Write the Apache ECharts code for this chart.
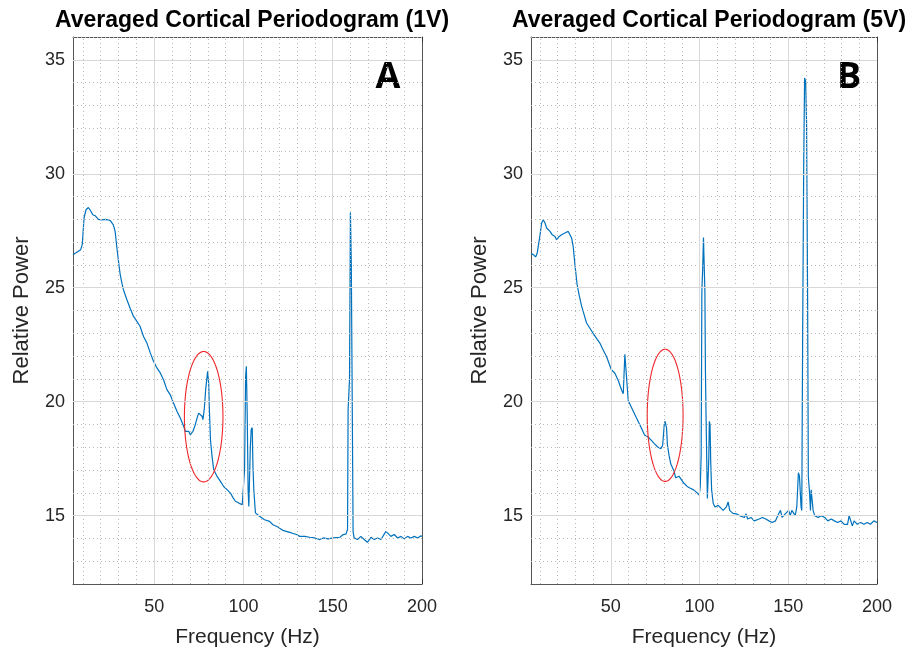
<!DOCTYPE html>
<html><head><meta charset="utf-8">
<script src="https://cdn.jsdelivr.net/npm/echarts@6/dist/echarts.min.js"></script>
<style>html,body{margin:0;padding:0;background:#fff}#c{width:909px;height:654px}</style>
</head><body><div id="c"></div>
<script>
// ---- Data ----
const titles = ['Averaged Cortical Periodogram (1V)', 'Averaged Cortical Periodogram (5V)'];
const panelLetters = ['A', 'B'];
const xTicks = [50, 100, 150, 200];
const yTicks = [15, 20, 25, 30, 35];
const xMinorGrid = [10, 20, 30, 40, 60, 70, 80, 90, 110, 120, 130, 140, 160, 170, 180, 190];
const yMinorGrid = [13, 14, 16, 17, 18, 19, 21, 22, 23, 24, 26, 27, 28, 29, 31, 32, 33, 34, 36];
const xMajorGrid = [50, 100, 150];
const yMajorGrid = [15, 20, 25, 30, 35];
const xRangeA = [4.5, 200];
const xRangeB = [5, 200];
const yRange = [12, 36];

const freqA = [4.5,6.6,8.8,9.7,10.7,11.8,13.1,14.0,15.6,16.9,18.7,20.6,21.5,22.5,23.8,25.3,26.2,27.1,28.1,29.1,30.0,30.9,31.9,32.8,34.7,36.5,38.4,40.3,42.1,44.0,45.9,47.8,49.6,51.5,53.4,55.2,57.1,59.0,60.8,62.8,64.6,66.5,67.4,68.4,69.3,70.2,70.8,71.7,73.0,74.0,74.9,75.8,76.8,77.3,78.1,78.8,79.6,79.9,80.5,80.9,81.5,82.4,83.3,85.2,87.1,88.9,90.8,92.7,94.2,95.5,97.4,99.3,100.0,100.6,101.2,101.6,102.1,102.6,103.0,103.8,104.3,104.9,105.3,105.8,106.7,109.0,111.8,114.6,116.5,119.3,122.1,124.0,126.9,129.7,131.5,134.3,137.1,140.0,142.8,144.6,147.4,150.3,154.0,155.9,157.5,158.3,158.6,159.4,159.9,160.4,160.9,161.4,162.0,163.9,165.7,167.6,169.4,171.4,173.2,175.1,177.0,179.8,180.7,182.6,184.4,186.4,188.2,190.1,191.9,193.8,195.7,197.6,199.4,200];
const powerA = [26.45,26.56,26.67,26.9,28.07,28.42,28.52,28.42,28.2,28.16,28.0,27.98,27.9,28.0,27.98,27.95,27.94,27.76,27.47,26.74,26.15,25.6,25.2,24.9,24.47,24.1,23.74,23.52,23.3,22.86,22.57,22.14,21.77,21.48,21.26,20.96,20.53,20.3,19.94,19.57,19.28,18.92,18.7,18.77,18.7,18.55,18.48,18.7,18.99,19.28,19.5,19.47,19.36,19.21,19.72,20.53,21.1,21.33,20.82,19.65,18.33,17.6,17.02,16.72,16.5,16.28,16.14,15.99,15.78,15.63,15.55,15.48,15.41,17.0,21.1,21.55,19.4,16.1,15.4,17.9,18.77,18.86,17.2,16.1,15.12,14.97,14.82,14.75,14.6,14.5,14.35,14.31,14.24,14.17,14.09,14.09,14.05,14.02,13.95,14.02,13.98,14.02,14.05,14.17,14.2,14.4,19.6,21.0,28.3,26.0,20.2,14.3,14.02,13.95,14.09,13.95,13.83,14.05,13.95,14.02,13.95,14.31,14.24,14.09,14.17,14.02,14.09,13.98,14.09,14.02,14.09,14.02,14.12,14.08];

const freqB = [5.0,6.3,7.6,8.5,10.1,11.0,11.9,12.9,13.8,15.7,17.0,18.5,19.4,20.9,22.2,24.1,26.0,26.9,27.9,28.8,29.7,31.0,32.1,33.5,34.4,36.3,40.0,43.8,45.6,47.5,50.3,52.2,54.0,56.1,57.0,57.9,58.9,59.8,60.7,62.5,64.4,67.2,69.0,70.8,72.7,74.5,76.4,78.2,79.2,80.1,80.6,81.4,81.9,82.8,83.8,84.7,85.6,86.5,88.4,89.3,91.1,93.0,94.8,96.7,98.5,99.8,100.4,100.9,101.3,101.8,102.2,102.6,103.0,103.3,103.7,104.4,105.2,105.5,105.9,106.3,106.8,107.7,108.7,109.6,110.5,111.4,113.3,115.1,116.1,117.0,118.8,120.7,122.5,125.3,126.2,127.1,129.0,130.8,133.6,135.4,137.3,139.1,140.9,142.8,144.6,145.6,146.5,148.3,150.2,151.1,152.0,153.0,153.9,154.8,155.7,156.3,156.8,157.2,157.6,158.1,158.7,159.2,159.8,160.3,160.9,161.3,162.0,162.5,162.9,163.5,164.0,164.9,166.8,168.6,170.5,172.3,174.2,176.0,177.8,179.7,181.5,183.4,184.3,185.2,186.1,187.1,188.9,190.8,192.6,194.5,196.3,198.2,200];
const powerB = [26.5,26.45,26.35,26.52,27.32,27.84,27.98,27.84,27.62,27.47,27.32,27.25,27.1,27.25,27.32,27.4,27.47,27.4,27.18,26.8,26.05,25.13,24.69,24.2,23.96,23.45,23.0,22.57,22.28,21.99,21.4,21.26,20.96,20.5,20.35,22.08,22.0,20.05,19.9,19.6,19.29,18.84,18.54,18.46,18.31,18.16,18.01,17.94,18.09,18.99,19.14,18.84,18.09,17.64,17.26,17.11,16.96,16.66,16.73,16.66,16.43,16.28,16.2,16.13,16.01,15.9,16.28,17.64,24.86,25.92,27.2,27.12,24.86,21.4,19.14,15.75,17.48,19.14,18.99,17.33,16.13,15.53,15.38,15.3,15.45,15.38,15.23,15.38,15.6,15.23,15.1,15.08,15.0,14.92,15.08,14.85,14.92,14.77,14.85,14.92,14.85,14.77,14.7,14.77,15.08,15.23,14.92,15.08,15.23,15.0,15.23,15.3,15.0,15.38,16.88,16.73,15.98,15.38,15.23,22.9,30.44,34.2,34.05,32.24,24.41,16.73,15.98,15.23,16.13,16.2,15.23,15.0,14.92,15.0,14.92,14.77,14.85,14.77,14.7,14.77,14.62,14.62,15.0,14.77,14.55,14.77,14.62,14.7,14.62,14.7,14.62,14.77,14.7];

// ellipse annotations: [centerFreq, centerPower, radiusFreq, radiusPower]
const ellipseA = [77.7, 19.34, 10.8, 2.86];
const ellipseB = [80.6, 19.4, 10.1, 2.9];

// ---- Chart ----
const TXT = '#262626';
const FONT = 'Liberation Sans';
const chart = echarts.init(document.getElementById('c'));

const grids = [
  {left: 73, top: 37, width: 349, height: 547},
  {left: 531, top: 37, width: 346, height: 547}
];
const xRanges = [xRangeA, xRangeB];

const xAxes = [], yAxes = [];
for (let g = 0; g < 2; g++) {
  ['bottom', 'top'].forEach(pos => {
    const main = pos === 'bottom';
    xAxes.push({
      type: 'value', gridIndex: g, position: pos, min: xRanges[g][0], max: xRanges[g][1],
      name: main ? 'Frequency (Hz)' : '', nameLocation: 'middle', nameGap: 43,
      nameTextStyle: {color: TXT, fontSize: 21, fontFamily: FONT},
      splitLine: {show: false}, minorTick: {show: false},
      axisLine: {show: true, onZero: false, lineStyle: {color: '#555', width: 1}},
      axisTick: {show: true, inside: true, length: 5, customValues: xTicks, lineStyle: {color: '#333'}},
      axisLabel: {show: main, customValues: xTicks, color: TXT, fontSize: 18, fontFamily: FONT, margin: 14}
    });
  });
  ['left', 'right'].forEach(pos => {
    const main = pos === 'left';
    yAxes.push({
      type: 'value', gridIndex: g, position: pos, min: yRange[0], max: yRange[1],
      name: main ? 'Relative Power' : '', nameLocation: 'middle', nameGap: 40,
      nameTextStyle: {color: TXT, fontSize: 22, fontFamily: FONT},
      splitLine: {show: false}, minorTick: {show: false},
      axisLine: {show: true, onZero: false, lineStyle: {color: '#555', width: 1}},
      axisTick: {show: true, inside: true, length: 5, customValues: yTicks, lineStyle: {color: '#333'}},
      axisLabel: {show: main, customValues: yTicks, color: TXT, fontSize: 18, fontFamily: FONT, margin: 8}
    });
  });
}

function gridLines() {
  const d = [];
  xMinorGrid.forEach(v => d.push({xAxis: v, lineStyle: {type: [1, 3], color: '#b8b8b8', width: 1}}));
  yMinorGrid.forEach(v => d.push({yAxis: v, lineStyle: {type: [1, 3], color: '#b8b8b8', width: 1}}));
  xMajorGrid.forEach(v => d.push({xAxis: v, lineStyle: {type: 'solid', color: '#d8d8d8', width: 1}}));
  yMajorGrid.forEach(v => d.push({yAxis: v, lineStyle: {type: 'solid', color: '#d8d8d8', width: 1}}));
  return d;
}

function ellipseRender(params, api) {
  const c = api.coord([api.value(0), api.value(1)]);
  const s = api.size([api.value(2), api.value(3)]);
  const pts = [];
  for (let i = 0; i <= 90; i++) {
    const t = i / 90 * Math.PI * 2;
    pts.push([c[0] + s[0] * Math.cos(t), c[1] + s[1] * Math.sin(t)]);
  }
  return {type: 'polyline', shape: {points: pts}, style: {stroke: '#f0262a', lineWidth: 1.1, fill: null}};
}

const dataSets = [[freqA, powerA], [freqB, powerB]];
const ellipses = [ellipseA, ellipseB];
const series = [];
for (let g = 0; g < 2; g++) {
  const xi = g * 2, yi = g * 2;
  series.push({
    type: 'line', xAxisIndex: xi, yAxisIndex: yi, data: [], z: 1, silent: true,
    markLine: {silent: true, symbol: ['none', 'none'], label: {show: false}, animation: false, data: gridLines()}
  });
  const [fx, py] = dataSets[g];
  series.push({
    type: 'line', xAxisIndex: xi, yAxisIndex: yi, z: 3, showSymbol: false, symbol: 'none',
    data: fx.map((f, i) => [f, py[i]]),
    lineStyle: {color: '#0072BD', width: 1.2}, clip: true
  });
  series.push({
    type: 'custom', xAxisIndex: xi, yAxisIndex: yi, z: 4, silent: true,
    renderItem: ellipseRender, data: [ellipses[g]]
  });
}

chart.setOption({
  animation: false,
  backgroundColor: '#fff',
  title: titles.map((t, i) => ({
    text: t, left: [247, 704][i], top: 4, textAlign: 'center',
    textStyle: {fontSize: 23, fontWeight: 'bold', color: '#000', fontFamily: FONT}
  })),
  grid: grids,
  xAxis: xAxes,
  yAxis: yAxes,
  series: series,
  graphic: panelLetters.map((l, i) => ({
    type: 'text', x: [388, 849][i], y: 78,
    style: {text: l, fontSize: 36, fontWeight: 'bold', fontFamily: 'Open Sans', fill: '#000', textAlign: 'center', textVerticalAlign: 'middle'}
  }))
});
</script>
</body></html>
